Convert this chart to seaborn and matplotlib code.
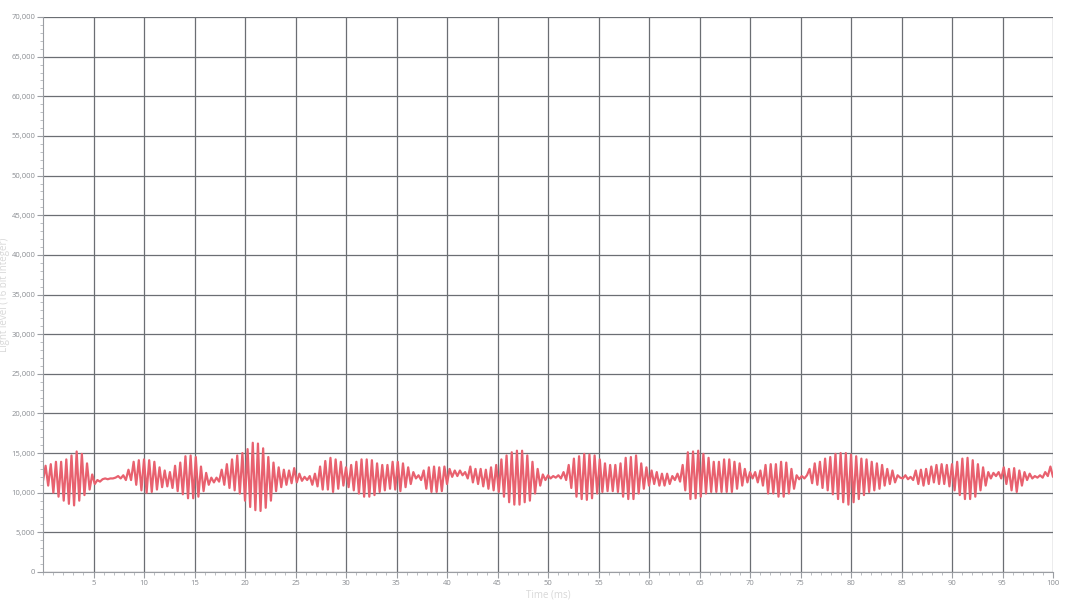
import numpy as np
import pandas as pd
import matplotlib
matplotlib.use("Agg")
import matplotlib.pyplot as plt
from matplotlib.ticker import FuncFormatter, MultipleLocator
import seaborn as sns

# Light level samples (thousands), in time order 0-100 ms
seg_a = [11.5, 13.4, 10.9, 13.6, 10.0, 13.9, 9.5, 13.9, 9.0, 14.2, 8.6, 14.7, 8.4, 15.2,
         9.0, 14.9, 9.7, 13.7, 10.4, 12.3, 11.1]
seg_b = [11.6, 11.4, 11.7, 11.8, 11.7, 11.8, 11.8, 11.9, 12.1, 11.8, 12.2, 11.6]
seg_c = [12.9, 11.6, 13.9, 11.0, 14.1, 10.3, 14.2, 10.0, 14.1, 10.1, 13.9, 10.4, 13.2, 10.7,
         12.8, 10.8, 12.6, 10.6, 13.4, 10.2, 13.8, 9.8, 14.6, 9.3, 14.7, 9.3, 14.5, 9.5,
         13.3, 10.2, 12.5, 11.0, 11.9, 11.3]
seg_d = [11.9, 11.4]
seg_e = [12.9, 11.0, 13.6, 10.6, 14.2, 10.3, 14.7, 9.9, 15.0, 9.0, 15.5, 8.2, 16.3, 7.8,
         16.2, 7.7, 15.6, 8.1, 14.5, 9.0, 13.8]
seg_f = [10.2, 13.2, 10.7, 12.9, 11.0, 12.8, 11.2, 13.1, 11.3, 12.4, 11.5, 12.0, 11.6, 12.1,
         11.0, 12.4, 10.8, 13.3, 10.4, 14.0, 10.4, 14.4, 10.1, 14.2, 10.5, 13.9, 10.9, 13.2,
         10.7, 13.5, 10.3, 13.9, 9.9, 14.2, 9.5, 14.2, 9.5, 14.1, 9.7, 13.7, 10.1, 13.5,
         10.3, 13.5, 10.5, 13.9, 10.4, 13.9, 10.2, 13.7, 10.7, 13.2, 11.1, 12.6, 11.8, 12.2,
         11.6, 12.8, 10.5, 13.2, 10.1, 13.3, 10.1, 13.2, 10.2, 13.3, 11.1, 13.0, 12.0, 12.8,
         12.1, 12.8, 12.2, 12.6, 11.8, 13.3, 11.3, 13.0, 11.1, 13.0, 10.8, 12.9, 10.5, 13.2,
         10.3, 13.5, 10.1, 14.2, 9.5, 14.7, 8.8, 15.1, 8.5, 15.3, 8.5, 15.3, 8.8]
seg_g = [14.7, 9.0, 13.9, 9.9, 13.0, 10.9, 12.3, 11.6, 12.2, 11.8, 12.1, 11.9, 12.2, 11.8,
         12.6, 11.6, 13.5, 10.6, 14.3, 9.5, 14.6, 9.2, 14.9, 9.1, 14.8, 9.3, 14.7, 9.9,
         14.2, 10.1, 13.7, 10.2, 13.5, 10.2, 13.5, 10.1, 13.7, 9.5, 14.4, 9.2, 14.5, 9.2,
         14.7, 9.9, 13.7, 10.5, 13.2, 10.9, 12.8, 11.1, 12.6, 10.9, 12.4, 10.9, 12.4, 11.1,
         12.1, 11.6, 12.4, 11.4, 13.5, 10.3, 15.1, 9.2, 15.2, 9.3, 15.3, 9.5, 14.9, 9.9,
         14.4, 10.1, 13.9, 10.1, 13.9, 10.1, 14.2, 10.1, 14.2, 10.1, 13.9, 10.5, 13.7, 10.9,
         13.0, 11.3, 12.6, 11.8, 12.6, 11.3, 12.8, 10.9, 13.5, 9.9, 13.6, 9.9, 13.6, 9.5,
         13.9, 9.5]
seg_h = [13.8, 9.9, 13.0, 10.5, 12.2, 11.7, 12.1, 11.8, 12.2, 13.0, 11.2, 13.7, 11.0, 13.9,
         10.6, 14.3, 10.3, 14.5, 9.8, 14.9, 9.2, 15.0, 8.8, 15.0, 8.5, 14.8, 8.8, 14.6,
         9.2, 14.3, 9.7, 14.2, 10.1, 13.9, 10.3, 13.7, 10.5, 13.5, 10.9, 13.0, 11.1, 12.8,
         11.3, 12.2, 11.9, 11.8, 12.2, 11.7, 12.0, 11.6, 12.8, 11.1, 12.9, 10.9, 13.0, 11.1,
         13.3, 11.3, 13.5, 11.1, 13.6, 11.1, 13.5, 10.8, 13.6, 10.3, 13.9, 9.7, 14.3, 9.2,
         14.4, 9.2, 14.1, 9.5, 13.6, 10.3, 13.2, 10.9, 12.6, 11.8, 12.5, 12.1, 12.6, 11.8,
         13.2, 11.1, 13.0, 10.3, 13.1, 10.1, 12.8, 10.9, 12.6, 11.6, 12.4, 11.8, 12.1, 11.9,
         12.2, 11.9, 12.6, 12.1, 13.3, 12.0]

light_k = seg_a + seg_b + seg_c + seg_d + seg_e + seg_f + seg_g + seg_h
light = np.array(light_k) * 1000.0
time_ms = np.linspace(0, 100, len(light))
df = pd.DataFrame({"Time (ms)": time_ms, "Light": light})

x_ticks = list(range(5, 101, 5))
y_ticks = list(range(0, 70001, 5000))

sns.set_theme(style="white")
plt.rcParams['font.family'] = ['Open Sans', 'DejaVu Sans']

fig = plt.figure(figsize=(10.66, 6.0), dpi=100)
ax = fig.add_axes([43/1066, 1 - 572/600, (1053 - 43)/1066, (572 - 17)/600])

sns.lineplot(data=df, x="Time (ms)", y="Light", ax=ax, color="#e8616f",
             linewidth=1.6, estimator=None, sort=False)

ax.set_xlim(0, 100)
ax.set_ylim(0, 70000)
ax.set_xticks(x_ticks)
ax.set_yticks(y_ticks)
ax.xaxis.set_minor_locator(MultipleLocator(1))
ax.yaxis.set_minor_locator(MultipleLocator(1000))
ax.yaxis.set_major_formatter(FuncFormatter(lambda v, p: f"{int(v):,}"))
ax.xaxis.set_major_formatter(FuncFormatter(lambda v, p: f"{int(v)}"))

ax.grid(True, which="major", color="#6b6e73", linewidth=0.9)
ax.set_axisbelow(True)
for side in ["top", "right"]:
    ax.spines[side].set_visible(False)
for side in ["left", "bottom"]:
    ax.spines[side].set_visible(True)
    ax.spines[side].set_color("#9a9da2")
    ax.spines[side].set_linewidth(0.8)

ax.tick_params(axis="both", which="major", length=4, width=0.8, color="#9a9da2",
               labelsize=5.5, labelcolor="#8a8d92", pad=1.5, left=True, bottom=True)
ax.tick_params(axis="both", which="minor", length=2, width=0.6, color="#b0b3b8",
               left=True, bottom=True)

ax.set_xlabel("Time (ms)", fontsize=7, color="#d8d8d8")
ax.set_ylabel("Light level (16 bit integer)", fontsize=7, color="#d8d8d8")
ax.xaxis.set_label_coords(0.5, -0.032)
ax.yaxis.set_label_coords(-0.0327, 0.5)

fig.savefig("out.png", dpi=100, facecolor="white")
